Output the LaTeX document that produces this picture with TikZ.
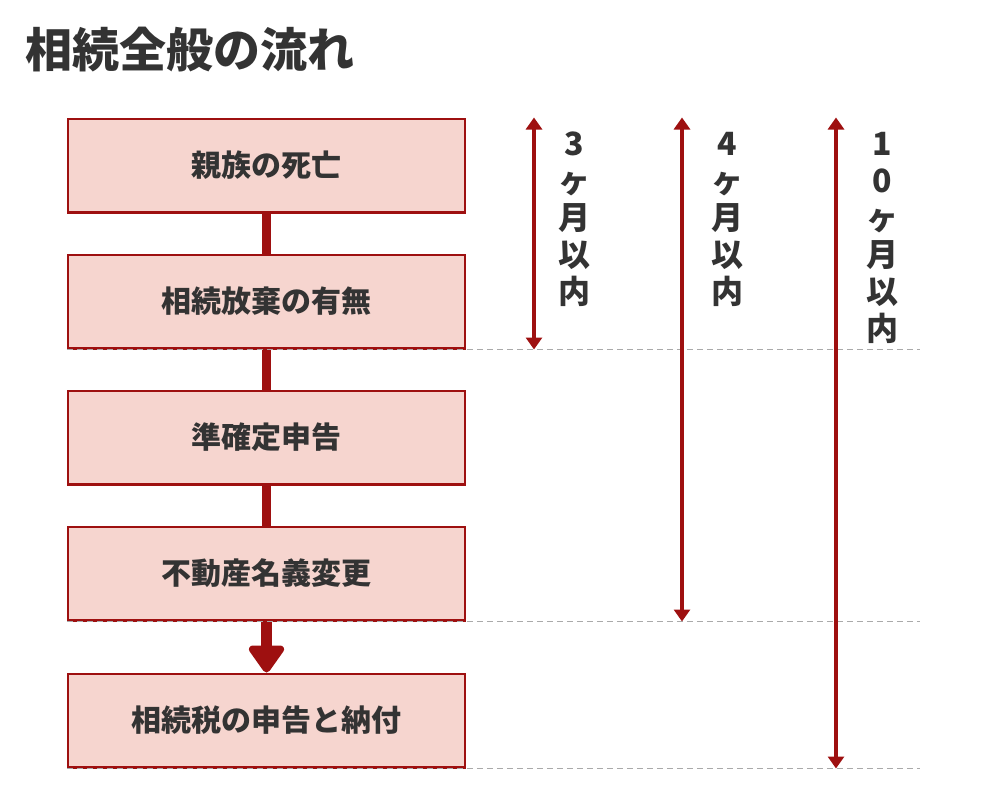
\documentclass[tikz,border=0pt]{standalone}
\usepackage{fontspec}
\newfontfamily\jpfont{Noto Sans CJK JP}
\usetikzlibrary{arrows.meta,positioning,backgrounds}

\definecolor{flowred}{HTML}{9E1010}
\definecolor{boxpink}{HTML}{F6D5CF}
\definecolor{inkgrey}{HTML}{333333}
\definecolor{guidegrey}{HTML}{AAAAAA}

\tikzset{
  stepbox/.style={draw=flowred, fill=boxpink, line width=2.5pt,
    minimum width=397pt, minimum height=93.5pt, inner sep=0pt,
    text=inkgrey, font=\jpfont\bfseries\fontsize{30}{34}\selectfont},
  flowline/.style={draw=flowred, line width=9pt, line cap=round},
  bigarrow/.style={draw=flowred, fill=flowred, line width=11pt,
    -{Triangle[length=30pt,width=40pt,round]}},
  spanarrow/.style={draw=flowred, line width=4pt,
    {Triangle[length=12pt,width=16pt]}-{Triangle[length=12pt,width=16pt]}},
  guide/.style={draw=guidegrey, line width=1.5pt, dash pattern=on 6pt off 4pt},
  spanlabel/.style={text=inkgrey, align=center, inner sep=0pt,
    font=\jpfont\bfseries\fontsize{32}{37}\selectfont}
}

\begin{document}
\begin{tikzpicture}[x=1pt, y=-1pt]
\useasboundingbox (0,0) rectangle (1000,800);

% Title
\node[anchor=west, text=inkgrey, inner sep=0pt,
  font=\jpfont\bfseries\fontsize{47}{50}\selectfont] (title) at (25,50) {相続全般の流れ};

% Steps
\node[stepbox] (b1) at (266.5,165.5) {親族の死亡};
\node[stepbox, below=40pt of b1] (b2) {相続放棄の有無};
\node[stepbox, below=40pt of b2] (b3) {準確定申告};
\node[stepbox, below=40pt of b3] (b4) {不動産名義変更};
\node[stepbox, below=51pt of b4] (b5) {相続税の申告と納付};

% Connectors between the steps
\begin{scope}[on background layer]
\draw[flowline] (b1) -- (b2);
\draw[flowline] (b2) -- (b3);
\draw[flowline] (b3) -- (b4);
\draw[bigarrow] (b4) -- (b5);
\end{scope}

% Deadline guides
\coordinate (edge) at (920,0);
\draw[guide] (b2.south west) -- (b2.south west -| edge);
\draw[guide] (b4.south west) -- (b4.south west -| edge);
\draw[guide] (b5.south west) -- (b5.south west -| edge);

% Deadline arrows
\coordinate (m3) at (534,0);
\coordinate (m4) at (682,0);
\coordinate (m10) at (836,0);
\draw[spanarrow] (b1.north -| m3) -- (b2.south -| m3);
\draw[spanarrow] (b1.north -| m4) -- (b4.south -| m4);
\draw[spanarrow] (b1.north -| m10) -- (b5.south -| m10);

% Deadline labels
\node[spanlabel, anchor=north] (l3) at (574,132) {3\\ヶ\\月\\以\\内};
\node[spanlabel, anchor=north] (l4) at (727,132) {4\\ヶ\\月\\以\\内};
\node[spanlabel, anchor=north] (l10) at (882,132) {1\\0\\ヶ\\月\\以\\内};

\end{tikzpicture}
\end{document}
